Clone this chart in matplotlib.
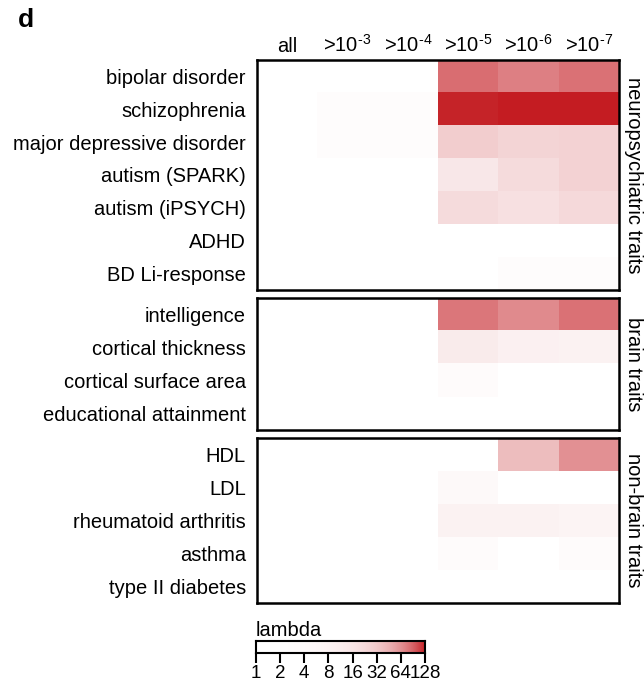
import numpy as np
import matplotlib
matplotlib.use("Agg")
import matplotlib.pyplot as plt
from matplotlib.colors import LinearSegmentedColormap, Normalize

plt.rcParams['font.family'] = ['Liberation Sans', 'DejaVu Sans']
plt.rcParams['mathtext.default'] = 'regular'

# columns: p-value thresholds (hyphen instead of a long minus, as in the figure)
columns = ['all', '>10$^{\u2010 3}$', '>10$^{\u2010 4}$', '>10$^{\u2010 5}$',
           '>10$^{\u2010 6}$', '>10$^{\u2010 7}$']

# lambda values per group (rows x columns)
neuro_traits = ['bipolar disorder', 'schizophrenia', 'major depressive disorder',
                'autism (SPARK)', 'autism (iPSYCH)', 'ADHD', 'BD Li-response']
neuro_lambda = [[1, 1, 1, 82, 72, 80],
                [1, 2.5, 2.5, 124, 128, 128],
                [1, 2.5, 2.5, 29, 25, 26],
                [1, 1, 1, 14, 21, 26],
                [1, 1, 1, 21, 18, 22],
                [1, 1, 1, 1, 1, 1],
                [1, 1, 1, 1, 2.5, 2.5]]

brain_traits = ['intelligence', 'cortical thickness', 'cortical surface area',
                'educational attainment']
brain_lambda = [[1, 1, 1, 77, 66, 80],
                [1, 1, 1, 12, 9, 8],
                [1, 1, 1, 3, 1, 1],
                [1, 1, 1, 1, 1, 1]]

other_traits = ['HDL', 'LDL', 'rheumatoid arthritis', 'asthma', 'type II diabetes']
other_lambda = [[1, 1, 1, 1, 38, 63],
                [1, 1, 1, 4, 1, 1],
                [1, 1, 1, 8, 8, 7],
                [1, 1, 1, 3, 1, 3],
                [1, 1, 1, 1, 1, 1]]

group_names = ['neuropsychiatric traits', 'brain traits', 'non-brain traits']
cbar_ticks = [1, 2, 4, 8, 16, 32, 64, 128]

cmap = LinearSegmentedColormap.from_list('wr', ['#ffffff', '#c41c22'])
norm = Normalize(vmin=1, vmax=128)

W, H = 644, 684
fig = plt.figure(figsize=(W / 100, H / 100), dpi=100)

def ax_px(x0, y0, x1, y1):
    return fig.add_axes([x0 / W, 1 - y1 / H, (x1 - x0) / W, (y1 - y0) / H])

panels = [(neuro_traits, neuro_lambda, 60, 290),
          (brain_traits, brain_lambda, 298, 430),
          (other_traits, other_lambda, 438, 603)]

fs = 14.5
for i, (traits, vals, top, bot) in enumerate(panels):
    ax = ax_px(257, top, 619, bot)
    ax.imshow(np.array(vals, dtype=float), cmap=cmap, norm=norm, aspect='auto',
              interpolation='nearest')
    ax.set_yticks(range(len(traits)), traits, fontsize=fs)
    ax.tick_params(axis='y', length=0, pad=8)
    if i == 0:
        ax.xaxis.tick_top()
        ax.set_xticks(range(len(columns)), columns, fontsize=fs)
        ax.tick_params(axis='x', length=0, pad=3)
    else:
        ax.set_xticks([])
    for s in ax.spines.values():
        s.set_linewidth(1.8)
    ax.text(1.015, 0.5, group_names[i], transform=ax.transAxes, rotation=-90,
            ha='left', va='center', fontsize=fs)

# colorbar on log2 axis
cax = ax_px(256, 641, 425, 653)
x = np.linspace(0, 7, 400)
cax.imshow((2 ** x)[None, :], cmap=cmap, norm=norm, aspect='auto',
           extent=[0, 7, 0, 1])
cax.set_yticks([])
cax.set_xticks(np.log2(cbar_ticks), [str(t) for t in cbar_ticks], fontsize=13.5)
cax.tick_params(axis='x', direction='out', length=7, width=1.5, pad=2)
for s in cax.spines.values():
    s.set_linewidth(1.5)
fig.text(256 / W, 1 - 630 / H, 'lambda', fontsize=fs, ha='left', va='center')

fig.text(18 / W, 1 - 20 / H, 'd', fontsize=19, fontweight='bold', ha='left', va='center')

fig.savefig('out.png', dpi=100)
